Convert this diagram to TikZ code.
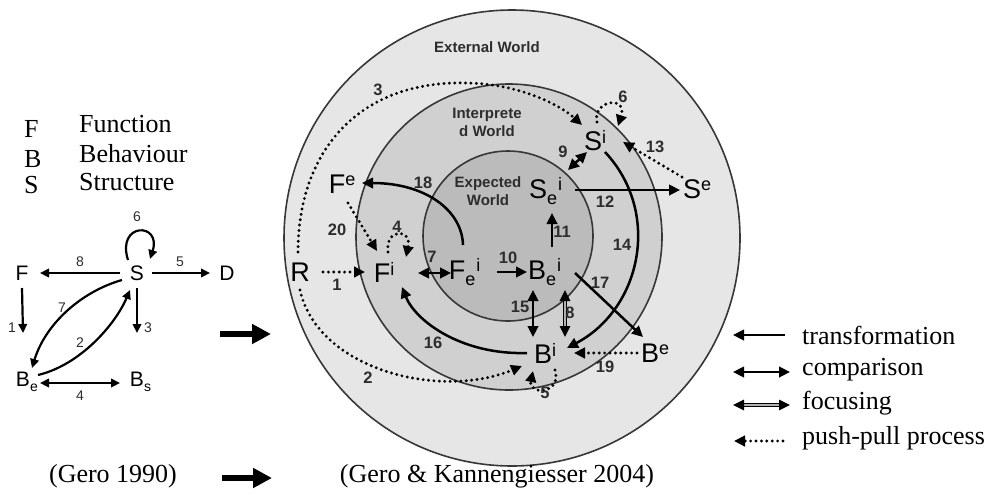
\documentclass[tikz,border=0pt]{standalone}
\usepackage{fontspec}
\setmainfont{Liberation Serif}
\setsansfont{Liberation Sans}
\usetikzlibrary{arrows.meta}
\definecolor{ringA}{RGB}{230,230,230}
\definecolor{ringB}{RGB}{208,208,208}
\definecolor{ringC}{RGB}{187,187,187}
\definecolor{edgec}{RGB}{55,55,55}
\definecolor{numc}{RGB}{45,45,45}
\newcommand\supf{\fontsize{18}{18}\selectfont}
\newcommand\Sup[2]{\rlap{\supf\raisebox{#2pt}{#1}}}
\newcommand\SubSup[2]{\rlap{\supf\raisebox{-6pt}{#1}\kern1pt\raisebox{8pt}{#2}}}
\newcommand\lsub[1]{\rlap{\fontsize{14}{14}\selectfont\raisebox{-5pt}{#1}}}
\begin{document}
\begin{tikzpicture}[x=1pt,y=-1pt,
  >={Triangle[length=11pt,width=10.5pt]},
  big/.style={font=\fontsize{27}{27}\selectfont\sffamily, inner sep=0pt, text=black},
  lbig/.style={font=\fontsize{21}{21}\selectfont\sffamily, inner sep=0pt},
  num/.style={font=\fontsize{16.5}{16.5}\selectfont\sffamily\bfseries, text=numc, inner sep=0pt},
  lnum/.style={font=\fontsize{14}{14}\selectfont\sffamily, text=numc, inner sep=0pt},
  world/.style={font=\fontsize{15}{18}\selectfont\sffamily\bfseries, text=numc, align=center, inner sep=0pt},
  serif/.style={font=\fontsize{26}{26}\selectfont, inner sep=0pt},
  trans/.style={line width=2.5pt, ->},
  compare/.style={line width=2.5pt, <->},
  focus/.style={line width=1.3pt, double=gray!60, double distance=1.5pt, <->},
  push/.style={line width=3.2pt, dash pattern=on 0pt off 5.4pt, line cap=round, ->},
  ltrans/.style={line width=2.2pt, ->, >={Triangle[length=9pt,width=8.5pt]}},
  ltwo/.style={line width=2.2pt, <->, >={Triangle[length=9pt,width=8.5pt]}},
  blk/.style={line width=6.5pt, -{Triangle[length=19pt,width=19pt]}}
]
\useasboundingbox (0,0) rectangle (987,493);

% ---------- left legend ----------
\node[serif, anchor=base west] (kF) at (24,137) {F};
\node[serif, anchor=base west] (kB) at (24,167) {B};
\node[serif, anchor=base west] (kS) at (24,193) {S};
\node[serif, anchor=base west] (tF) at (79,132) {Function};
\node[serif, anchor=base west] (tB) at (79,162) {Behaviour};
\node[serif, anchor=base west] (tS) at (79,190) {Structure};

% ---------- left FBS diagram ----------
\node[lbig] (lF) at (22,273) {F};
\node[lbig] (lS) at (137,273) {S};
\node[lbig] (lD) at (227,273) {D};
\node[lbig] (lBe) at (23,382) {B\lsub{e}};
\node[lbig] (lBs) at (137,382) {B\lsub{s}};

\draw[ltrans] ([shift={(-9,-13)}]lS.center) .. controls (116,222) and (162,222) .. ([shift={(13,-14)}]lS.center);
\draw[ltrans] ([shift={(-17,0)}]lS.center) -- ([shift={(18,0)}]lF.center);
\draw[ltrans] ([shift={(15,0)}]lS.center) -- ([shift={(-17,0)}]lD.center);
\draw[ltrans] ([shift={(0,15)}]lF.center) -- ([shift={(0,-49)}]lBe.center);
\draw[ltrans] ([shift={(0,15)}]lS.center) -- ([shift={(0,-49)}]lBs.center);
\draw[ltwo] ([shift={(17,1)}]lBe.center) -- ([shift={(-17,1)}]lBs.center);
\draw[ltrans] ([shift={(-15,7)}]lS.center) .. controls (80,292) and (45,325) .. ([shift={(9,-14)}]lBe.center);
\draw[ltrans] ([shift={(15,-7)}]lBe.center) .. controls (80,365) and (115,325) .. ([shift={(-7,17)}]lS.center);

\node[lnum] (l6) at (137,217) {6};
\node[lnum] (l8) at (80,262) {8};
\node[lnum] (l5) at (180,262) {5};
\node[lnum] (l1) at (12,328) {1};
\node[lnum] (l3) at (148,328) {3};
\node[lnum] (l7) at (62,308) {7};
\node[lnum] (l2) at (80,343) {2};
\node[lnum] (l4) at (80,396) {4};

\coordinate (ba1) at (220,334);
\coordinate (ba2) at (271,334);
\draw[blk] (ba1) -- (ba2);

% ---------- circles ----------
\draw[edgec, line width=1.6pt, fill=ringA] (512,238) circle[radius=228];
\draw[edgec, line width=1.6pt, fill=ringB] (509,237) circle[radius=153];
\draw[edgec, line width=1.6pt, fill=ringC] (508,236) circle[radius=85];

\node[world] (wE) at (487,47) {External World};
\node[world] (wI) at (487,122) {Interprete\\d World};
\node[world] (wX) at (488,191) {Expected\\World};

% ---------- nodes ----------
\node[big] (R) at (300,272) {R};
\node[big] (Fi) at (382,272) {F\Sup{i}{7}};
\node[big] (Fe) at (337,184) {F\Sup{e}{8}};
\node[big] (Fei) at (457,272) {F\SubSup{e}{i}};
\node[big] (Bei) at (537,272) {B\SubSup{e}{i}};
\node[big] (Sei) at (538,191) {S\SubSup{e}{i}};
\node[big] (Si) at (593,141) {S\Sup{i}{7}};
\node[big] (Se) at (692,189) {S\Sup{e}{8}};
\node[big] (Bi) at (543,353) {B\Sup{i}{7}};
\node[big] (Be) at (650,353) {B\Sup{e}{8}};

% ---------- connectors ----------
\draw[push] ([shift={(23,0)}]R.center) -- ([shift={(-17,0)}]Fi.center);
\draw[push] ([shift={(-2,-20)}]R.center) .. controls (298,150) and (360,80) .. (467,83)
   .. controls (520,84) and (560,105) .. ([shift={(-11,-16)}]Si.center);
\draw[push] ([shift={(0,18)}]R.center) .. controls (318,370) and (440,400) .. ([shift={(-21,13)}]Bi.center);
\draw[push] ([shift={(4,-19)}]Si.center) .. controls (592,100) and (628,95) .. ([shift={(25,-15)}]Si.center);
\draw[push] ([shift={(-10,-12)}]Se.center) -- ([shift={(30,1)}]Si.center);
\draw[compare] ([shift={(30,-21)}]Sei.center) -- ([shift={(-6,11)}]Si.center);
\draw[trans] ([shift={(37,-1)}]Sei.center) -- ([shift={(-12,1)}]Se.center);
\draw[trans] ([shift={(12,11)}]Si.center) .. controls (662,213) and (641,309) .. ([shift={(24,-5)}]Bi.center);
\draw[trans] ([shift={(6,-27)}]Fei.center) .. controls (462,210) and (425,183) .. ([shift={(25,-1)}]Fe.center);
\draw[push] ([shift={(11,19)}]Fe.center) -- ([shift={(-5,-21)}]Fi.center);
\draw[push] ([shift={(6,-20)}]Fi.center) .. controls (385,228) and (412,228) .. ([shift={(24,-15)}]Fi.center);
\draw[compare] ([shift={(36,1)}]Fi.center) -- ([shift={(-6,1)}]Fei.center);
\draw[trans] ([shift={(40,0)}]Fei.center) -- ([shift={(-10,0)}]Bei.center);
\draw[trans] ([shift={(15,-25)}]Bei.center) -- ([shift={(14,22)}]Sei.center);
\draw[trans] ([shift={(38,1)}]Bei.center) -- ([shift={(-7,-16)}]Be.center);
\draw[compare] ([shift={(-4,18)}]Bei.center) -- ([shift={(-10,-16)}]Bi.center);
\draw[focus] ([shift={(28,18)}]Bei.center) -- ([shift={(22,-16)}]Bi.center);
\draw[trans] ([shift={(-16,0)}]Bi.center) .. controls (460,355) and (415,320) .. ([shift={(20,15)}]Fi.center);
\draw[push] ([shift={(-13,0)}]Be.center) -- ([shift={(31,0)}]Bi.center);
\draw[push] ([shift={(12,17)}]Bi.center) .. controls (562,395) and (528,395) .. ([shift={(-10,18)}]Bi.center);

% ---------- numbers ----------
\node[num] (n3) at (378,90) {3};
\node[num] (n6) at (623,97) {6};
\node[num] (n9) at (563,152) {9};
\node[num] (n13) at (655,147) {13};
\node[num] (n12) at (605,202) {12};
\node[num] (n18) at (423,183) {18};
\node[num] (n20) at (337,230) {20};
\node[num] (n4) at (397,227) {4};
\node[num] (n11) at (562,232) {11};
\node[num] (n14) at (622,245) {14};
\node[num] (n7) at (432,257) {7};
\node[num] (n10) at (508,258) {10};
\node[num] (n1) at (337,285) {1};
\node[num] (n17) at (600,283) {17};
\node[num] (n15) at (520,307) {15};
\node[num] (n8) at (570,313) {8};
\node[num] (n16) at (433,343) {16};
\node[num] (n2) at (368,378) {2};
\node[num] (n19) at (605,367) {19};
\node[num] (n5) at (545,393) {5};

% ---------- right legend ----------
\coordinate (g1a) at (785,335); \coordinate (g1b) at (733,335);
\coordinate (g2a) at (733,372); \coordinate (g2b) at (790,372);
\coordinate (g3a) at (733,405); \coordinate (g3b) at (790,405);
\coordinate (g4a) at (783,441); \coordinate (g4b) at (734,441);
\draw[trans] (g1a) -- (g1b);
\draw[compare] (g2a) -- (g2b);
\draw[focus] (g3a) -- (g3b);
\draw[push] (g4a) -- (g4b);
\node[serif, anchor=west] (lg1) at (802,335) {transformation};
\node[serif, anchor=west] (lg2) at (802,370) {comparison};
\node[serif, anchor=west] (lg3) at (802,403) {focusing};
\node[serif, anchor=west] (lg4) at (802,438) {push-pull process};

% ---------- bottom captions ----------
\node[serif] (c1) at (113,476) {(Gero 1990)};
\coordinate (bb1) at (222,478);
\coordinate (bb2) at (272,478);
\draw[blk] (bb1) -- (bb2);
\node[serif] (c2) at (497,476) {(Gero \& Kannengiesser 2004)};
\end{tikzpicture}
\end{document}
